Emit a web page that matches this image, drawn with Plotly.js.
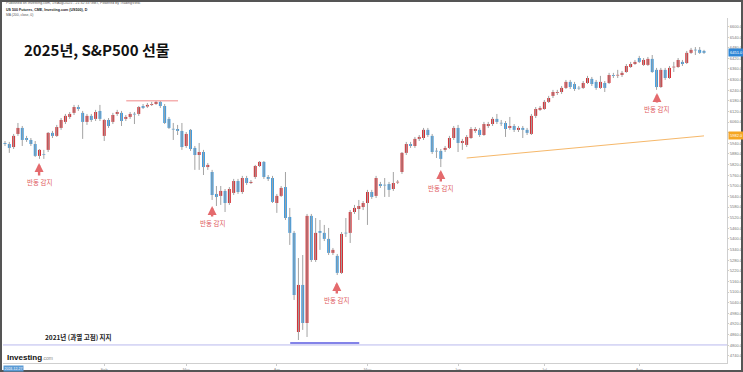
<!DOCTYPE html>
<html>
<head>
<meta charset="utf-8">
<script src="https://cdn.plot.ly/plotly-3.0.1.min.js"></script>
<style>html,body{margin:0;padding:0;background:#fff;}#chart{width:743px;height:372px;}</style>
</head>
<body>
<div id="chart"></div>
<script>
// Daily candles, S&P500 futures, late Dec 2024 - Aug 2025
const opens = [
5942,5936,5919,5993,6027,5970,5959,5936,5869,5877,
5903,5999,5982,6027,6061,6089,6112,6145,6112,6061,
6095,6078,6123,5982,6072,6061,6106,6112,6078,6089,
6106,6106,6151,6148,6157,6162,6174,6151,6078,6021,
6021,6010,5925,6016,5914,5874,5891,5806,5778,5654,
5643,5671,5603,5660,5727,5665,5744,5716,5750,5812,
5835,5750,5744,5603,5643,5693,5524,5434,4874,5140,
4925,5530,5281,5445,5434,5400,5321,5304,5208,5434,
5434,5552,5569,5580,5603,5665,5643,5710,5705,5710,
5682,5719,5778,5886,5936,5925,5965,5970,6016,5982,
5897,5897,5903,5914,5970,6027,5942,5931,5970,6010,
6016,5987,6038,6049,6078,6055,6055,6027,6038,6016,
6027,6016,5993,6095,6129,6134,6174,6208,6225,6230,
6253,6287,6275,6253,6253,6281,6304,6287,6253,6281,
6281,6326,6323,6326,6343,6371,6388,6422,6383,6383,
6417,6355,6258,6355,6309,6369,6371,6400,6394,6451,
6468,6468,6462];
const closes = [
5936,5914,5982,6027,5959,5959,5936,5869,5903,5874,
5999,5982,6032,6072,6095,6106,6145,6134,6061,6095,
6072,6117,6078,6072,6038,6100,6117,6066,6089,6106,
6103,6145,6140,6157,6162,6174,6151,6055,6027,6018,
6010,5919,5993,5908,5874,5891,5806,5818,5648,5637,
5671,5603,5682,5727,5665,5744,5716,5722,5812,5835,
5750,5739,5609,5643,5688,5518,5434,5083,5140,4925,
5530,5281,5434,5434,5400,5321,5338,5208,5428,5431,
5552,5575,5586,5603,5665,5637,5744,5699,5702,5677,
5716,5722,5886,5936,5925,5965,5976,6016,5987,5891,
5894,5852,5914,5970,6027,5942,5953,5976,6021,6021,
5987,6049,6049,6078,6061,6052,6021,6038,6016,6027,
6016,5999,6095,6134,6140,6174,6196,6230,6230,6253,
6287,6258,6247,6250,6281,6309,6275,6253,6287,6253,
6326,6321,6326,6338,6377,6388,6400,6400,6411,6417,
6343,6258,6355,6309,6366,6371,6411,6388,6451,6468,
6465,6451,6451];
const highs = [
5953,5948,5993,6055,6038,5982,5970,5953,5908,5903,
6004,6010,6044,6083,6106,6117,6157,6157,6123,6106,
6106,6129,6157,6078,6083,6112,6129,6123,6100,6117,
6117,6151,6162,6168,6174,6179,6179,6162,6089,6055,
6044,6055,6004,6021,5925,5942,5903,5829,5790,5699,
5699,5682,5693,5739,5739,5756,5756,5733,5818,5840,
5840,5761,5756,5654,5699,5778,5575,5445,5292,5309,
5541,5541,5518,5507,5479,5462,5349,5315,5439,5518,
5563,5592,5620,5614,5677,5677,5756,5722,5744,5722,
5778,5733,5891,5948,5948,5976,5987,6027,6027,5993,
5914,5908,5925,5982,6038,6044,5965,5987,6032,6032,
6027,6061,6061,6089,6106,6072,6066,6089,6049,6038,
6038,6027,6106,6145,6151,6185,6208,6242,6242,6264,
6298,6298,6287,6264,6292,6321,6315,6298,6321,6292,
6338,6338,6355,6349,6388,6400,6411,6434,6422,6428,
6439,6366,6366,6366,6377,6400,6422,6411,6462,6479,
6484,6484,6468];
const lows = [
5925,5886,5908,5982,5925,5948,5925,5863,5852,5852,
5891,5970,5976,6016,6049,6078,6100,6123,5965,6044,
6061,6066,6066,5953,6027,6049,6095,6038,6066,6078,
6049,6095,6134,6140,6151,6157,6140,6049,6021,5959,
5987,5903,5914,5897,5790,5790,5761,5790,5620,5586,
5592,5552,5592,5648,5654,5654,5705,5710,5739,5806,
5739,5727,5603,5547,5637,5507,5366,5055,4829,4886,
4846,5270,5270,5338,5388,5309,5309,5196,5202,5411,
5377,5541,5507,5563,5479,5626,5631,5688,5637,5637,
5671,5710,5767,5874,5914,5914,5953,5959,5976,5880,
5857,5806,5891,5908,5959,5891,5903,5919,5965,5999,
5976,5982,6027,6038,6049,6038,5976,6016,6004,6004,
5970,5987,5987,6083,6123,6129,6168,6196,6213,6219,
6247,6247,6236,6242,6247,6275,6264,6242,6247,6230,
6275,6309,6309,6315,6338,6366,6383,6394,6377,6377,
6338,6242,6253,6298,6304,6343,6366,6377,6388,6445,
6439,6445,6445];

// Orange line (MA) points
const maIdx = [107, 120, 135, 150, 162];
const maVal = [5857, 5887, 5921, 5955, 5982];

// Price axis ticks
const priceTicks = [4740,4800,4860,4920,4980,5040,5100,5160,5220,5280,5340,5400,5460,5520,
  5580,5640,5700,5760,5820,5880,5940,6000,6060,6120,6180,6240,6300,6360,6420,6480,6540,6600];
const monthTickIdx = [23, 42, 63, 84, 105, 125, 147];
const monthLabels = ['Feb', 'Mar', 'Apr', 'May', 'Jun', 'Jul', 'Aug'];

// Rebound signals: candle index and price at arrow tip
const signalIdx = [7.9, 48.0, 76.9, 101.0, 151.1];
const signalPrice = [5829, 5586, 5157, 5790, 6225];
const signalText = '반동 감지';

const lastPrice = 6451.0;
const maLast = 5982.0;
const support2021 = 4801;
const aprilLow = 4812;
const febHigh = 6180;

const RED = '#d42a2f', BLUE = '#3d9be0';
const idx = opens.map((_, i) => i);
const base = opens.map((o, i) => Math.min(o, closes[i]));
const bodyH = opens.map((o, i) => Math.max(Math.abs(closes[i] - o), 4));
const bodyC = opens.map((o, i) => closes[i] >= o ? RED : BLUE);

const traces = [
  {type: 'ohlc', x: idx, open: opens, high: highs, low: lows, close: closes,
   tickwidth: 0, increasing: {line: {color: '#a3a3a3', width: 1}},
   decreasing: {line: {color: '#a3a3a3', width: 1}}, hoverinfo: 'skip'},
  {type: 'bar', x: idx, base: base, y: bodyH, width: 0.68,
   marker: {color: bodyC, line: {width: 0}}, hoverinfo: 'skip'},
  {type: 'scatter', mode: 'lines', x: maIdx, y: maVal,
   line: {color: '#f6b86a', width: 1}, hoverinfo: 'skip'}
];

const PX = 724, PY = 345; // plot size in px
const px2x = p => (p - 3) / PX;
const py2y = p => (363 - p) / PY;

const annotations = [
  {xref: 'paper', yref: 'paper', x: px2x(22), y: py2y(50), xanchor: 'left', yanchor: 'middle',
   text: '<b>2025년, S&P500 선물</b>', showarrow: false,
   font: {family: 'Noto Sans CJK KR', size: 15, color: '#111'}},
  {xref: 'paper', yref: 'paper', x: px2x(78), y: py2y(337), xanchor: 'center', yanchor: 'middle',
   text: '<b>2021년 (과열 고점) 지지</b>', showarrow: false,
   font: {family: 'Noto Sans CJK KR', size: 6.5, color: '#222'}},
  {xref: 'paper', yref: 'paper', x: px2x(5), y: py2y(357), xanchor: 'left', yanchor: 'middle',
   text: '<b>Investing</b><span style="font-size:5px;fill:#888">.com</span>', showarrow: false,
   font: {family: 'Liberation Sans', size: 8, color: '#111'}},
  {xref: 'paper', yref: 'paper', x: px2x(4), y: py2y(3.5), xanchor: 'left', yanchor: 'middle',
   text: 'Published on Investing.com, 19/Aug/2025 - 21:32:33 GMT, Powered by TradingView.', showarrow: false,
   font: {family: 'Liberation Sans', size: 3.6, color: '#555'}},
  {xref: 'paper', yref: 'paper', x: px2x(4), y: py2y(9.5), xanchor: 'left', yanchor: 'middle',
   text: '<b>US 500 Futures, CME, Investing.com (US500), D</b>', showarrow: false,
   font: {family: 'Liberation Sans', size: 3.6, color: '#222'}},
  {xref: 'paper', yref: 'paper', x: px2x(4), y: py2y(15), xanchor: 'left', yanchor: 'middle',
   text: 'MA (200, close, 0)', showarrow: false,
   font: {family: 'Liberation Sans', size: 3.4, color: '#555'}},
  {xref: 'paper', yref: 'y', x: 1, y: lastPrice, xanchor: 'left', yanchor: 'middle', xshift: 1,
   text: lastPrice.toFixed(1), showarrow: false, bgcolor: '#2f86d6', borderpad: 1,
   font: {family: 'Liberation Sans', size: 4, color: '#fff'}},
  {xref: 'paper', yref: 'y', x: 1, y: maLast, xanchor: 'left', yanchor: 'middle', xshift: 1,
   text: maLast.toFixed(1), showarrow: false, bgcolor: '#f5a623', borderpad: 1,
   font: {family: 'Liberation Sans', size: 4, color: '#fff'}},
  {xref: 'paper', yref: 'paper', x: 0, y: py2y(368), xanchor: 'left', yanchor: 'middle',
   text: '2024-12-27', showarrow: false, bgcolor: '#5b9bd5', borderpad: 0.5,
   font: {family: 'Liberation Sans', size: 3.5, color: '#fff'}}
];
const sigAy = [19, 17, 18, 18, 16];
signalIdx.forEach((sx, i) => {
  annotations.push({x: sx, y: signalPrice[i], xref: 'x', yref: 'y', text: signalText,
    showarrow: true, arrowhead: 2, arrowsize: 0.75, arrowwidth: 2.4, arrowcolor: '#e46a6d',
    ax: 0, ay: sigAy[i], axref: 'pixel', ayref: 'pixel', standoff: 0,
    font: {family: 'Noto Sans CJK KR', size: 6.5, color: '#e05a5e'}});
});

const shapes = [
  {type: 'line', xref: 'paper', yref: 'y', x0: 0, x1: 1, y0: support2021, y1: support2021,
   line: {color: '#b9b9ee', width: 1}},
  {type: 'line', xref: 'x', yref: 'y', x0: 66.1, x1: 82.1, y0: aprilLow, y1: aprilLow,
   line: {color: '#5a5ae0', width: 1.5}},
  {type: 'line', xref: 'x', yref: 'y', x0: 28.1, x1: 40.1, y0: febHigh, y1: febHigh,
   line: {color: '#f08a8a', width: 1}},
  {type: 'rect', xref: 'paper', yref: 'paper', x0: px2x(1), x1: px2x(742), y0: py2y(371), y1: py2y(1),
   line: {color: '#555', width: 2}, fillcolor: 'rgba(0,0,0,0)'}
];

// hide axis labels that sit under the highlighted price labels
const tickText = priceTicks.map(v =>
  (Math.abs(v - lastPrice) < 25 || Math.abs(v - maLast) < 25) ? '' : v.toFixed(1));

const layout = {
  width: 743, height: 372,
  margin: {l: 3, r: 16, t: 18, b: 9},
  paper_bgcolor: '#fff', plot_bgcolor: '#fff',
  showlegend: false,
  xaxis: {range: [-0.4635, 167.33], type: 'linear', showgrid: false, zeroline: false,
    rangeslider: {visible: false}, tickvals: monthTickIdx, ticktext: monthLabels,
    tickfont: {family: 'Liberation Sans', size: 4, color: '#999'},
    ticks: 'outside', ticklen: 2, tickcolor: '#ccc', showline: true, linecolor: '#cfcfcf', linewidth: 1},
  yaxis: {range: [4699, 6648], side: 'right', showgrid: false, zeroline: false,
    tickvals: priceTicks, ticktext: tickText,
    tickfont: {family: 'Liberation Sans', size: 4, color: '#777'},
    ticks: 'outside', ticklen: 1, tickcolor: '#ccc', showline: true, linecolor: '#cfcfcf', linewidth: 1},
  annotations: annotations,
  shapes: shapes
};

Plotly.newPlot('chart', traces, layout, {staticPlot: true, displayModeBar: false});
</script>
</body>
</html>
